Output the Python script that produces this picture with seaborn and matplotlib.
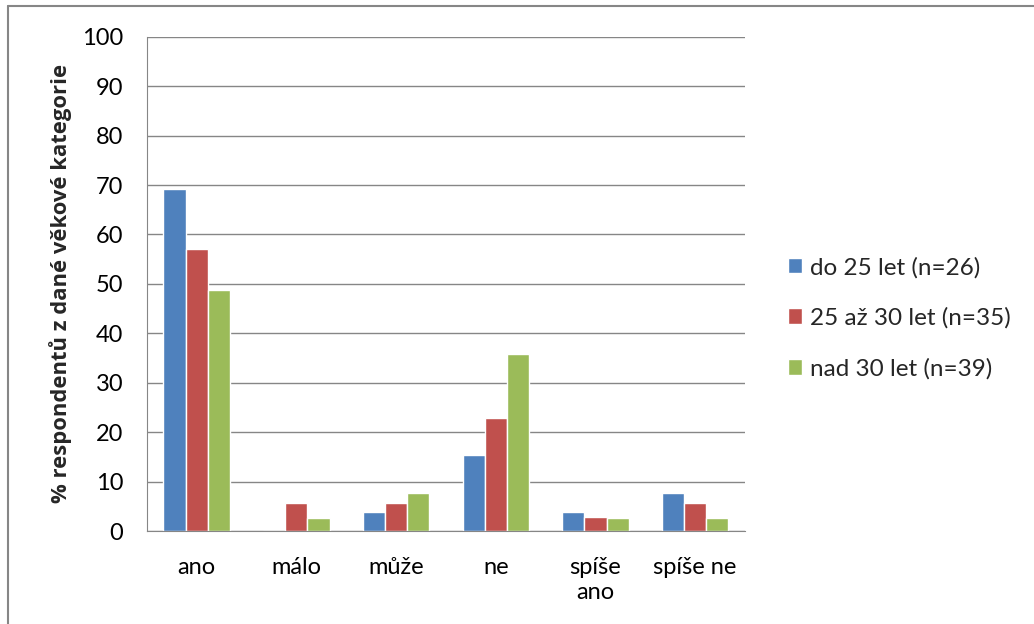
import pandas as pd
import matplotlib.pyplot as plt
import seaborn as sns
from matplotlib.lines import Line2D

# data (% of respondents in each age category)
categories = ['ano', 'málo', 'může', 'ne', 'spíše\nano', 'spíše ne']
groups = ['do 25 let (n=26)', '25 až 30 let (n=35)', 'nad 30 let (n=39)']
do_25 = [69.2, 0.0, 3.8, 15.4, 3.8, 7.7]
od_25_do_30 = [57.1, 5.7, 5.7, 22.9, 2.9, 5.7]
nad_30 = [48.7, 2.6, 7.7, 35.9, 2.6, 2.6]
colors = ['#4f81bd', '#c0504d', '#9bbb59']

df = pd.DataFrame({
    'kategorie': categories * 3,
    'skupina': [g for g in groups for _ in categories],
    'procento': do_25 + od_25_do_30 + nad_30,
})

sns.set_style('white')
plt.rcParams['font.family'] = ['Lato', 'DejaVu Sans']

fig = plt.figure(figsize=(10.34, 6.24), dpi=100)
ax = fig.add_axes([0.142, 0.149, 0.5785, 0.792])

sns.barplot(data=df, x='kategorie', y='procento', hue='skupina',
            palette=colors, width=0.667, saturation=1, ax=ax)

ax.set_ylim(0, 100)
ax.set_yticks(range(0, 101, 10))
ax.yaxis.grid(True, color='#868686', linewidth=1)
ax.set_axisbelow(True)
for side in ['top', 'right']:
    ax.spines[side].set_visible(False)
ax.spines['left'].set_color('#868686')
ax.spines['bottom'].set_color('#868686')
ax.tick_params(axis='both', labelsize=17, length=0, colors='#000000')
ax.tick_params(axis='x', pad=19)
ax.tick_params(axis='y', pad=17)
ax.set_xlabel('')
ax.set_ylabel('% respondentů z dané věkové kategorie', fontsize=15.8,
              fontweight='bold', family=['Open Sans', 'DejaVu Sans'],
              labelpad=7)

ax.legend(loc='center left', bbox_to_anchor=(1.035, 0.431), frameon=False,
          fontsize=17.5, handlelength=0.6, handleheight=0.6, handletextpad=0.3,
          labelspacing=1.2)

# outer border of the chart
fig.add_artist(Line2D([0.008, 0.008], [0, 0.99], color='#868686', lw=1.5,
                      transform=fig.transFigure))
fig.add_artist(Line2D([0.008, 1], [0.99, 0.99], color='#868686', lw=1.5,
                      transform=fig.transFigure))

fig.savefig('out.png', dpi=100)
